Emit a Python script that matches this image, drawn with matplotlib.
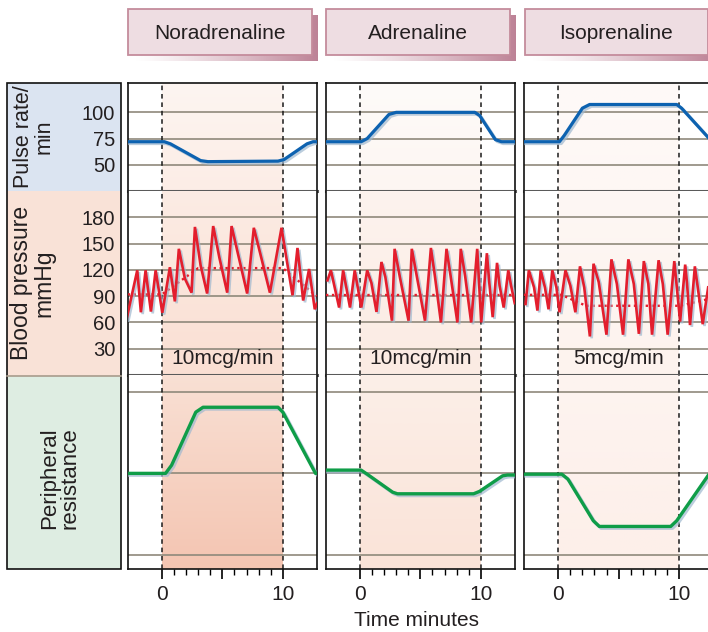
import numpy as np
import matplotlib
matplotlib.use('Agg')
import matplotlib.pyplot as plt
from matplotlib import patheffects
from matplotlib.patches import Rectangle
from matplotlib.colors import to_rgb

plt.rcParams['font.family'] = ['Liberation Sans', 'DejaVu Sans']

drugs = ['Noradrenaline', 'Adrenaline', 'Isoprenaline']
doses = ['10mcg/min', '10mcg/min', '5mcg/min']

pulse_ticks = [100, 75, 50]
bp_ticks = [180, 150, 120, 90, 60, 30]
res_grid = [0, 1, 2]

# pulse rate (beats/min)
nor_pulse_t = [-2.83, 0.2, 0.7, 3.2, 3.8, 9.6, 10.1, 12.0, 12.5, 12.8]
nor_pulse = [72, 72, 70, 54, 53, 53.5, 55, 70, 72, 72]
adr_pulse_t = [-2.83, 0.1, 0.6, 2.4, 3.0, 9.5, 9.9, 11.2, 11.7, 12.8]
adr_pulse = [72, 72, 75, 98, 100, 100, 97, 74, 72, 72]
iso_pulse_t = [-2.83, 0.1, 0.5, 2.0, 2.6, 9.8, 10.2, 12.8]
iso_pulse = [72, 72, 78, 104, 107.5, 107.5, 104, 71]

# blood pressure trace (mmHg)
nor_bp_t = [-2.92, -2.04, -1.74, -1.35, -0.91, -0.52, -0.25, 0.03, 0.66, 1.07,
            1.40, 1.9, 2.45, 2.73, 3.2, 3.74, 4.24, 4.75, 5.40, 5.76, 6.31,
            7.05, 7.60, 8.16, 8.93, 9.89, 10.3, 10.8, 11.21, 11.45, 11.68,
            12.17, 12.64, 12.83]
nor_bp = [64, 119.5, 71.6, 119.5, 72.4, 119.5, 96, 71, 123, 84,
          144, 110, 94, 169, 125, 93, 170, 134, 94, 170, 137,
          93, 168, 137, 94, 168, 133, 91, 145, 115, 85,
          121, 75, 82]
adr_bp_t = [-2.68, -2.40, -1.72, -1.39, -0.82, -0.43, 0.11, 0.60, 0.95, 1.37,
            1.78, 2.1, 2.65, 2.87, 3.3, 4.02, 4.29, 4.7, 5.38, 5.87, 6.2,
            6.70, 7.16, 7.5, 8.06, 8.34, 8.7, 9.20, 9.70, 10.03, 10.50, 10.7,
            10.98, 11.34, 11.55, 11.89, 12.27, 12.5, 12.8]
adr_bp = [108, 119.5, 77, 119.5, 77, 119.5, 77, 119.5, 105, 72,
          129, 112, 62, 144, 112, 62, 144, 113, 62, 145, 113,
          60, 144, 113, 60, 144, 113, 60, 144, 60, 139, 105,
          66, 128, 102, 77, 119.5, 102, 82]
iso_bp_t = [-2.70, -2.43, -2.0, -1.72, -1.45, -1.1, -0.80, -0.49, -0.15, 0.11,
            0.60, 1.0, 1.42, 1.80, 2.15, 2.62, 2.92, 3.35, 3.99, 4.40, 4.85,
            5.36, 5.80, 6.25, 6.67, 7.08, 7.45, 7.76, 8.30, 8.65, 9.05, 9.60,
            10.08, 10.50, 10.65, 10.90, 11.30, 11.5, 11.95, 12.4]
iso_bp = [81, 119.5, 100, 73.5, 119.5, 100, 75, 119.5, 100, 71.6,
          119.5, 102, 71.6, 124, 100, 44, 127, 106, 46, 132, 104,
          46, 132, 104, 47, 130, 104, 46, 131, 104, 46, 130,
          61, 126, 105, 57, 124, 104, 58, 100]

# mean pressure (dotted)
nor_mean_t = [-2.83, 0.0, 3.0, 10.0, 12.8]
nor_mean = [92, 92, 122, 122, 90]
adr_mean_t = [-2.83, 12.8]
adr_mean = [91.5, 91.5]
iso_mean_t = [-2.83, 0.25, 2.3, 10.1, 12.8]
iso_mean = [91.5, 91.5, 79, 79, 88]

# peripheral resistance (arbitrary units, baseline = 1)
nor_res_t = [-2.83, 0.3, 0.8, 2.8, 3.4, 9.6, 10.0, 12.7, 12.8]
nor_res = [1.0, 1.0, 1.1, 1.75, 1.81, 1.81, 1.75, 1.0, 1.0]
adr_res_t = [-2.83, 0.1, 0.6, 2.7, 3.1, 9.4, 9.9, 11.8, 12.2, 12.8]
adr_res = [1.04, 1.04, 0.99, 0.77, 0.75, 0.75, 0.78, 0.97, 0.98, 0.98]
iso_res_t = [-2.83, 0.3, 0.8, 2.9, 3.4, 9.3, 9.8, 12.8]
iso_res = [0.99, 0.99, 0.93, 0.42, 0.35, 0.35, 0.42, 1.06]

pulse_data = [(nor_pulse_t, nor_pulse), (adr_pulse_t, adr_pulse), (iso_pulse_t, iso_pulse)]
bp_data = [(nor_bp_t, nor_bp), (adr_bp_t, adr_bp), (iso_bp_t, iso_bp)]
mean_data = [(nor_mean_t, nor_mean), (adr_mean_t, adr_mean), (iso_mean_t, iso_mean)]
res_data = [(nor_res_t, nor_res), (adr_res_t, adr_res), (iso_res_t, iso_res)]

# infusion shading (top, bottom) for each row of each column
shades = [
    [('#fdf5f1', '#fcede6'), ('#fcece4', '#fadfd3'), ('#f9e0d4', '#f4c5b2')],
    [('#fefbf9', '#fdf6f2'), ('#fdf3ee', '#fbebe3'), ('#fcefe8', '#fae3d8')],
    [('#fefaf8', '#fef7f4'), ('#fef7f4', '#fdf3ee'), ('#fdf4f0', '#fdefe9')],
]

TXT = '#231f20'
GRID = '#8f897b'
SEP = '#5a5a5a'
W, H = 708, 632
XLIM = (-2.83, 12.8)

fig = plt.figure(figsize=(W / 100, H / 100), dpi=100)

# overlay in pixel coordinates for headers and row labels
ov = fig.add_axes([0, 0, 1, 1])
ov.axis('off')


def header(x0, x1, y0, y1, text):
    grad = np.zeros((1, 256, 4))
    grad[..., :3] = to_rgb('#bd8296')
    grad[..., 3] = np.linspace(0, 1, 256) ** 1.2
    ov.imshow(grad, extent=(x0 + 6, x1 + 6, y1 + 6, y0 + 6), aspect='auto',
              interpolation='bilinear', zorder=1)
    ov.add_patch(Rectangle((x0, y0), x1 - x0, y1 - y0, fc='#eedde2', ec='#c48c9c',
                           lw=1.3, zorder=2))
    ov.text((x0 + x1) / 2, (y0 + y1) / 2 + 1, text, ha='center', va='center',
            fontsize=15, color=TXT, zorder=3)


col_left = [127.7, 325.7, 524.0]
col_w = 189.0
for x0, name in zip(col_left, drugs):
    header(x0 + 0.6, x0 + 184, 9.3, 55, name)

# row label boxes
ov.add_patch(Rectangle((7.3, 82.7), 113.4, 108.3, fc='#dbe4f1', lw=0))
ov.add_patch(Rectangle((7.3, 191), 113.4, 184.7, fc='#f9e2d7', lw=0))
ov.add_patch(Rectangle((7.3, 375.7), 113.4, 193.6, fc='#deede2', lw=0))
ov.plot([7.3, 120.7], [375.7, 375.7], color='#a89c8c', lw=1.2)
ov.add_patch(Rectangle((7.3, 82.7), 113.4, 486.6, fc='none', ec='#111111', lw=1.2))
ov.text(34, 137, 'Pulse rate/\nmin', rotation=90, ha='center', va='center',
        multialignment='center', fontsize=15.5, color=TXT, linespacing=0.95)
ov.text(33, 283, 'Blood pressure\nmmHg', rotation=90, ha='center', va='center',
        multialignment='center', fontsize=16.5, color=TXT, linespacing=0.95)
ov.text(60, 478, 'Peripheral\nresistance', rotation=90, ha='center', va='center',
        multialignment='center', fontsize=16, color=TXT, linespacing=0.95)
ov.text(417, 621, 'Time minutes', ha='center', va='center', fontsize=15, color=TXT)
ov.set_xlim(0, W)
ov.set_ylim(H, 0)

rows = [(83.3, 191.0, (25, 127.7)), (191.0, 375.0, (0, 210)), (375.0, 569.3, (-0.175, 2.205))]

shadow = [patheffects.SimpleLineShadow(offset=(1.3, -1.3), shadow_color='#9fb8cf', alpha=0.7),
          patheffects.Normal()]


def shade(ax, top, bottom, ylim):
    c = np.linspace(to_rgb(top), to_rgb(bottom), 64)[:, None, :]
    ax.imshow(c, extent=(0, 10, ylim[0], ylim[1]), aspect='auto', origin='upper',
              interpolation='bilinear', zorder=0)


for ci in range(3):
    axes = []
    for ri, (ytop, ybot, ylim) in enumerate(rows):
        ax = fig.add_axes([col_left[ci] / W, 1 - ybot / H, col_w / W, (ybot - ytop) / H])
        shade(ax, shades[ci][ri][0], shades[ci][ri][1], ylim)
        ax.set_xlim(*XLIM)
        ax.set_ylim(*ylim)
        for s in ax.spines.values():
            s.set_color('#111111')
            s.set_linewidth(1.2)
        for x in (0, 10):
            ax.axvline(x, color='#1a1a1a', ls=(0, (3, 2.5)), lw=1.1, zorder=2)
        axes.append(ax)

    ax_p, ax_b, ax_r = axes

    # pulse
    ax_p.set_yticks(pulse_ticks)
    ax_p.grid(axis='y', color=GRID, lw=1.2)
    t, v = pulse_data[ci]
    ax_p.plot(t, v, color='#0d62b0', lw=2.3, solid_joinstyle='round', zorder=3,
              path_effects=shadow)
    ax_p.spines['bottom'].set_color(SEP)
    ax_p.spines['bottom'].set_linewidth(2.2)

    # blood pressure
    ax_b.set_yticks(bp_ticks)
    ax_b.grid(axis='y', color=GRID, lw=1.2)
    t, v = mean_data[ci]
    ax_b.plot(t, v, color='#e31e2d', lw=1.7, ls=(0, (1, 1.5)), zorder=3)
    t, v = bp_data[ci]
    ax_b.plot(t, v, color='#e31e2d', lw=1.9, solid_joinstyle='miter', zorder=4,
              path_effects=shadow)
    ax_b.text(5, 19, doses[ci], ha='center', va='center', fontsize=15, color=TXT, zorder=5)
    ax_b.spines['top'].set_visible(False)
    ax_b.spines['bottom'].set_color(SEP)
    ax_b.spines['bottom'].set_linewidth(2.2)

    # peripheral resistance
    ax_r.set_yticks(res_grid)
    ax_r.grid(axis='y', color=GRID, lw=1.2)
    t, v = res_data[ci]
    ax_r.plot(t, v, color='#0f9d48', lw=2.4, solid_joinstyle='round', zorder=3,
              path_effects=shadow)
    ax_r.spines['top'].set_visible(False)

    for ri, ax in enumerate(axes):
        ax.tick_params(axis='y', length=0, labelsize=14.5, labelcolor=TXT, pad=9,
                       labelleft=(ci == 0 and ri < 2))
        ax.tick_params(axis='x', bottom=False, labelbottom=False)

    ax_r.set_xticks([0, 5, 10])
    ax_r.set_xticklabels(['0', '', '10'])
    ax_r.set_xticks([1, 2, 3, 4, 6, 7, 8, 9], minor=True)
    ax_r.tick_params(axis='x', which='major', bottom=True, labelbottom=True, length=7,
                     width=1.2, labelsize=15, labelcolor=TXT, pad=4, direction='out')
    ax_r.tick_params(axis='x', which='minor', bottom=True, length=4.5, width=1.0,
                     direction='out')

fig.savefig('out.png', dpi=100)
